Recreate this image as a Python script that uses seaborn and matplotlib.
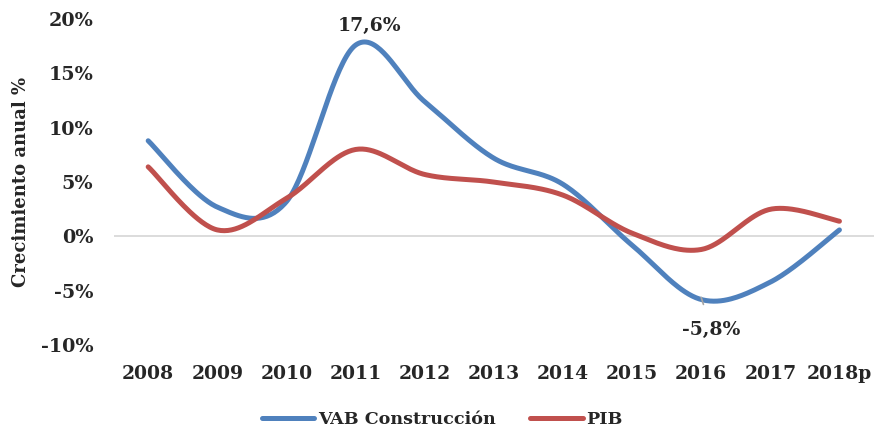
import matplotlib
matplotlib.use("Agg")
import matplotlib.pyplot as plt
import numpy as np
import pandas as pd
import seaborn as sns

years = ["2008", "2009", "2010", "2011", "2012", "2013", "2014", "2015", "2016", "2017", "2018p"]
vab = [8.8, 2.7, 3.2, 17.6, 12.4, 7.2, 4.8, -0.8, -5.8, -4.2, 0.6]
pib = [6.4, 0.6, 3.5, 8.0, 5.7, 5.0, 3.8, 0.3, -1.2, 2.5, 1.4]

BLUE = "#4F81BD"
RED = "#C0504D"


def smooth(vals, n=40):
    # Excel-style smoothed line: cubic Bezier with control points from neighbours
    p = np.column_stack([np.arange(len(vals), dtype=float), np.asarray(vals, dtype=float)])
    pts = []
    for i in range(len(p) - 1):
        p0 = p[i - 1] if i > 0 else p[i]
        p3 = p[i + 2] if i + 2 < len(p) else p[i + 1]
        c1 = p[i] + (p[i + 1] - p0) / 6
        c2 = p[i + 1] - (p3 - p[i]) / 6
        t = np.linspace(0, 1, n)[:, None]
        seg = ((1 - t) ** 3) * p[i] + 3 * ((1 - t) ** 2) * t * c1 + 3 * (1 - t) * t ** 2 * c2 + t ** 3 * p[i + 1]
        pts.append(seg if i == 0 else seg[1:])
    return np.vstack(pts)


sns.set_style("white")
plt.rcParams["font.family"] = ["DejaVu Serif"]
plt.rcParams["font.weight"] = "bold"

fig = plt.figure(figsize=(8.74, 4.32), dpi=100)
ax = fig.add_axes([0.130, 0.201, 0.870, 0.755])

frames = []
for name, vals in [("VAB Construcción", vab), ("PIB", pib)]:
    s = smooth(vals)
    frames.append(pd.DataFrame({"x": s[:, 0], "y": s[:, 1], "serie": name}))
df = pd.concat(frames, ignore_index=True)

sns.lineplot(data=df, x="x", y="y", hue="serie", palette={"VAB Construcción": BLUE, "PIB": RED},
             sort=False, estimator=None, linewidth=3.6, ax=ax, legend=False)

ax.axhline(0, color="#D9D9D9", linewidth=1.3, zorder=0)
ax.set_xlim(-0.5, len(years) - 0.5)
ax.set_ylim(-10, 20)
ax.set_xticks(range(len(years)))
ax.set_xticklabels(years)
ax.set_yticks(range(-10, 21, 5))
ax.set_yticklabels([f"{v}%" for v in range(-10, 21, 5)])
ax.tick_params(axis="x", length=0, pad=14, labelsize=13.5)
ax.tick_params(axis="y", length=0, pad=14.5, labelsize=13.8)
for sp in ax.spines.values():
    sp.set_visible(False)
ax.set_xlabel("")
ax.set_ylabel("Crecimiento anual %", fontsize=13, fontweight="bold", labelpad=8)

ax.annotate("17,6%", xy=(3, 17.6), xytext=(3.2, 19.4), ha="center", va="center",
            fontsize=13.5, fontweight="bold")
ax.annotate("-5,8%", xy=(8.0, -5.6), xytext=(8.15, -8.6), ha="center", va="center",
            fontsize=13.5, fontweight="bold",
            arrowprops=dict(arrowstyle="-", color="#A6A6A6", lw=1.2, shrinkA=10, shrinkB=0))

handles = [plt.Line2D([], [], color=BLUE, lw=3.6), plt.Line2D([], [], color=RED, lw=3.6)]
fig.legend(handles, ["VAB Construcción", "PIB"], loc="center", bbox_to_anchor=(0.506, 0.028),
           ncol=2, frameon=False, fontsize=12.6, handlelength=3.0, handletextpad=0.2,
           columnspacing=2.0)

fig.savefig("out.png", dpi=100)
